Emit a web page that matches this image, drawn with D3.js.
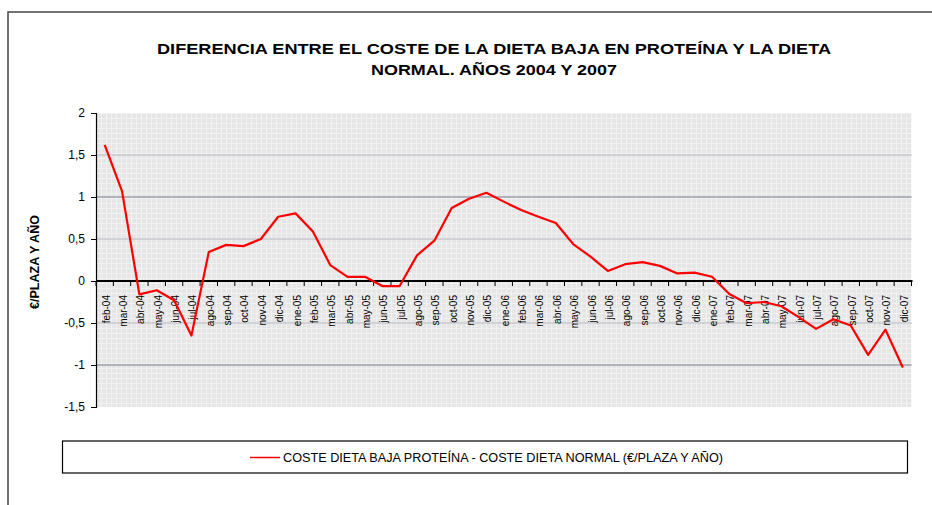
<!DOCTYPE html>
<html>
<head>
<meta charset="utf-8">
<script src="https://cdn.jsdelivr.net/npm/d3@7"></script>
<style>
  body { margin: 0; background: #fff; }
  svg { display: block; font-family: "Liberation Sans", Arial, Helvetica, sans-serif; }
</style>
</head>
<body>
<svg id="chart" width="932" height="505"></svg>
<script>
// months shown on the category axis
const months = [
  'feb-04', 'mar-04', 'abr-04', 'may-04', 'jun-04', 'jul-04', 'ago-04', 'sep-04', 'oct-04', 'nov-04', 'dic-04',
  'ene-05', 'feb-05', 'mar-05', 'abr-05', 'may-05', 'jun-05', 'jul-05', 'ago-05', 'sep-05', 'oct-05', 'nov-05', 'dic-05',
  'ene-06', 'feb-06', 'mar-06', 'abr-06', 'may-06', 'jun-06', 'jul-06', 'ago-06', 'sep-06', 'oct-06', 'nov-06', 'dic-06',
  'ene-07', 'feb-07', 'mar-07', 'abr-07', 'may-07', 'jun-07', 'jul-07', 'ago-07', 'sep-07', 'oct-07', 'nov-07', 'dic-07'
]

// coste dieta baja proteina - coste dieta normal (€/plaza y año)
const diferencia = [
  1.62, 1.07, -0.16, -0.11, -0.23, -0.65, 0.345, 0.43, 0.415, 0.5, 0.765,
  0.805, 0.59, 0.19, 0.05, 0.05, -0.06, -0.06, 0.305, 0.48, 0.87, 0.98, 1.05,
  0.945, 0.845, 0.765, 0.69, 0.44, 0.29, 0.12, 0.2, 0.225, 0.18, 0.09, 0.1,
  0.05, -0.155, -0.265, -0.25, -0.3, -0.43, -0.57, -0.455, -0.53, -0.88, -0.58, -1.03
]

const yTicks = [-1.5, -1, -0.5, 0, 0.5, 1, 1.5, 2]

const titleLines = [
  'DIFERENCIA ENTRE EL COSTE DE LA DIETA BAJA EN PROTEÍNA Y LA DIETA',
  'NORMAL. AÑOS 2004 Y 2007'
]
const yTitle = '€/PLAZA Y AÑO'
const legendLabel = 'COSTE DIETA BAJA PROTEÍNA - COSTE DIETA NORMAL (€/PLAZA Y AÑO)'

const plot = { left: 96, right: 911.5, top: 113, bottom: 407 }

const svg = d3.select('#chart')

// outer frame of the chart object (only left and top edge visible)
svg.append('path')
  .attr('d', 'M8,505 V12 H932')
  .attr('fill', 'none')
  .attr('stroke', '#444')
  .attr('stroke-width', 1.5)

// fine grid background pattern
const defs = svg.append('defs')
const pat = defs.append('pattern')
  .attr('id', 'fine')
  .attr('width', 5).attr('height', 5)
  .attr('patternUnits', 'userSpaceOnUse')
  .attr('x', plot.left).attr('y', plot.top)
pat.append('rect').attr('width', 5).attr('height', 5).attr('fill', '#e6e6e6')
pat.append('path').attr('d', 'M0,0.5 H5 M0.5,0 V5').attr('stroke', '#f1f1f1').attr('stroke-width', 1)

const x = d3.scaleBand().domain(months).range([plot.left, plot.right])
const y = d3.scaleLinear().domain([-1.5, 2]).range([plot.bottom, plot.top])

svg.append('rect')
  .attr('x', plot.left).attr('y', plot.top)
  .attr('width', plot.right - plot.left).attr('height', plot.bottom - plot.top)
  .attr('fill', 'url(#fine)')

// major gridlines
svg.append('g').selectAll('line')
  .data(yTicks.filter(d => d !== 0 && d !== -1.5 && d !== 2))
  .join('line')
  .attr('x1', plot.left).attr('x2', plot.right)
  .attr('y1', d => y(d)).attr('y2', d => y(d))
  .attr('stroke', d => Number.isInteger(d) ? '#9da1ab' : '#c6c8ce')
  .attr('stroke-width', 1.5)

// title
svg.append('g').selectAll('text')
  .data(titleLines)
  .join('text')
  .attr('x', 494)
  .attr('y', (d, i) => 54 + i * 21)
  .attr('text-anchor', 'middle')
  .attr('font-size', 15.5)
  .attr('font-weight', 'bold')
  .attr('fill', '#000')
  .attr('textLength', (d, i) => i === 0 ? 674 : 246)
  .attr('lengthAdjust', 'spacingAndGlyphs')
  .text(d => d)

// y axis
const yAxis = svg.append('g')
  .attr('transform', 'translate(' + plot.left + ',0)')
  .call(d3.axisLeft(y).tickValues(yTicks).tickSize(5).tickPadding(6)
    .tickFormat(d => String(d).replace('.', ',')))
yAxis.select('.domain').attr('stroke', '#000').attr('stroke-width', 1.2)
yAxis.selectAll('.tick line').attr('stroke', '#000')
yAxis.selectAll('text').attr('font-size', 12).attr('fill', '#000')
  .attr('font-family', '"Liberation Sans", Arial, sans-serif')

svg.append('text')
  .attr('transform', 'translate(35,262) rotate(-90)')
  .attr('text-anchor', 'middle')
  .attr('dy', '0.35em')
  .attr('font-size', 12.5)
  .attr('font-weight', 'bold')
  .text(yTitle)

// x axis on zero line
const xAxis = svg.append('g')
  .attr('transform', 'translate(0,' + y(0) + ')')
  .call(d3.axisBottom(x).tickSize(0).tickSizeOuter(0))
xAxis.select('.domain').remove()
xAxis.selectAll('text')
  .attr('font-size', 10)
  .attr('fill', '#000')
  .attr('font-family', '"Liberation Sans", Arial, sans-serif')
  .attr('text-anchor', 'end')
  .attr('transform', 'rotate(-90)')
  .attr('x', -14)
  .attr('y', 1.5)
  .attr('dy', '0.35em')

const bounds = months.map(m => x(m)).concat([plot.right])
svg.append('g').selectAll('line')
  .data(bounds)
  .join('line')
  .attr('x1', d => d).attr('x2', d => d)
  .attr('y1', y(0)).attr('y2', y(0) + 5)
  .attr('stroke', '#000')
svg.append('line')
  .attr('x1', plot.left).attr('x2', plot.right + 1)
  .attr('y1', y(0)).attr('y2', y(0))
  .attr('stroke', '#000').attr('stroke-width', 2)

// series line
const line = d3.line()
  .x((d, i) => x(months[i]) + x.bandwidth() / 2)
  .y(d => y(d))
svg.append('path')
  .datum(diferencia)
  .attr('fill', 'none')
  .attr('stroke', '#ff0000')
  .attr('stroke-width', 2.2)
  .attr('stroke-linejoin', 'round')
  .attr('d', line)

// legend
const legend = svg.append('g')
legend.append('rect')
  .attr('x', 62.5).attr('y', 441)
  .attr('width', 845).attr('height', 32)
  .attr('fill', '#fff').attr('stroke', '#000').attr('stroke-width', 1.2)
legend.append('line')
  .attr('x1', 250).attr('x2', 280)
  .attr('y1', 457.5).attr('y2', 457.5)
  .attr('stroke', '#ff0000').attr('stroke-width', 1.5)
legend.append('text')
  .attr('x', 283).attr('y', 461.5)
  .attr('font-size', 12)
  .attr('fill', '#000')
  .attr('textLength', 440)
  .attr('lengthAdjust', 'spacingAndGlyphs')
  .text(legendLabel)
</script>
</body>
</html>
